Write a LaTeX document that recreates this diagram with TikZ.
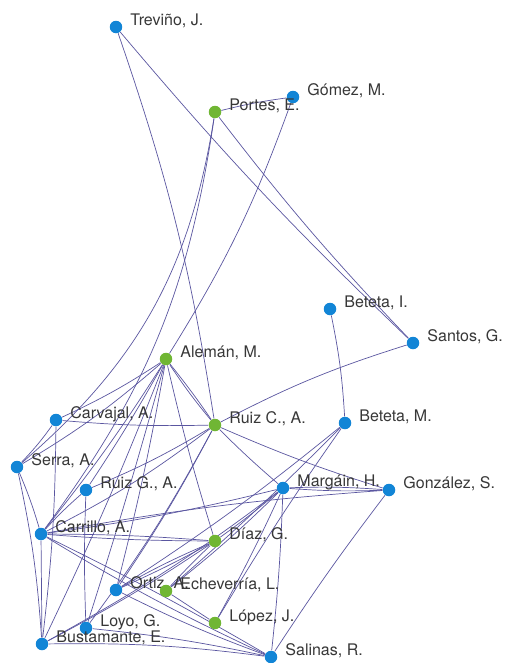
\documentclass[tikz,border=0pt]{standalone}
\usepackage{fontspec}
\setmainfont{TeX Gyre Heros}
\usetikzlibrary{backgrounds}
\definecolor{dotblue}{RGB}{18,133,214}
\definecolor{dotgreen}{RGB}{112,182,52}
\definecolor{linkcol}{RGB}{90,86,160}
\definecolor{namecol}{RGB}{55,55,55}
\begin{document}
\begin{tikzpicture}[x=0.02cm, y=-0.02cm,
    person/.style={circle, inner sep=0pt, minimum size=0.25cm,
        label={[name font, label distance=0.15cm, inner sep=0pt, yshift=0.12cm]right:{#1}}},
    name font/.style={font=\fontsize{9.1}{10}\selectfont, text=namecol},
    azul/.style={person={#1}, fill=dotblue},
    verde/.style={person={#1}, fill=dotgreen},
    link/.style={draw=linkcol, line width=0.4pt}]
\useasboundingbox (0,0) rectangle (513,663);

\node[azul={Treviño, J.}] (trevino) at (116,27) {};
\node[azul={Gómez, M.}] (gomez) at (293,97) {};
\node[verde={Portes, E.}] (portes) at (215,112) {};
\node[azul={Beteta, I.}] (betetaI) at (330,309) {};
\node[azul={Santos, G.}] (santos) at (413,343) {};
\node[verde={Alemán, M.}] (aleman) at (166,359) {};
\node[azul={Carvajal, A.}] (carvajal) at (56,420) {};
\node[verde={Ruiz C., A.}] (ruizC) at (215,425) {};
\node[azul={Beteta, M.}] (betetaM) at (345,423) {};
\node[azul={Serra, A.}] (serra) at (17,467) {};
\node[azul={Ruiz G., A.}] (ruizG) at (86,490) {};
\node[azul={Margáin, H.}] (margain) at (283,488) {};
\node[azul={González, S.}] (gonzalez) at (389,490) {};
\node[azul={Carrillo, A.}] (carrillo) at (41,534) {};
\node[verde={Díaz, G.}] (diaz) at (215,541) {};
\node[azul={Ortiz, A.}] (ortiz) at (116,590) {};
\node[verde={Echeverría, L.}] (echeverria) at (166,591) {};
\node[verde={López, J.}] (lopez) at (215,623) {};
\node[azul={Loyo, G.}] (loyo) at (86,628) {};
\node[azul={Bustamante, E.}] (bustamante) at (42,644) {};
\node[azul={Salinas, R.}] (salinas) at (271,657) {};

\begin{scope}[on background layer]
% ties among the members
\foreach \a/\b/\c in {trevino/ruizC/5, trevino/santos/-3, portes/gomez/3, portes/santos/-3,
    portes/serra/20, portes/carrillo/14, gomez/aleman/6, betetaI/betetaM/4, santos/ruizC/-5,
    aleman/carvajal/4, aleman/ruizC/2, aleman/ruizC/-3, aleman/serra/5, aleman/carrillo/3,
    aleman/ruizG/2, aleman/ortiz/2, aleman/loyo/1, aleman/diaz/-2, aleman/bustamante/2,
    carvajal/ruizC/-3, carvajal/serra/4, carvajal/bustamante/3,
    ruizC/carrillo/5, ruizC/ruizG/4, ruizC/ortiz/3, ruizC/margain/-2, ruizC/gonzalez/-3,
    ruizC/loyo/4, betetaM/ortiz/3, betetaM/echeverria/2, betetaM/lopez/-2,
    margain/gonzalez/-3, margain/gonzalez/3, margain/carrillo/3, margain/diaz/2,
    margain/echeverria/3, margain/lopez/2, margain/salinas/2, margain/bustamante/4,
    gonzalez/carrillo/-3, gonzalez/salinas/-2, carrillo/diaz/-2, carrillo/diaz/2,
    carrillo/salinas/-3, carrillo/salinas/2, carrillo/bustamante/0, carrillo/serra/-3,
    carrillo/ruizG/3, ortiz/diaz/3, ortiz/diaz/-2, ortiz/salinas/-3, echeverria/lopez/0,
    echeverria/diaz/2, bustamante/salinas/4, loyo/salinas/3, loyo/ruizG/2,
    serra/bustamante/4, bustamante/diaz/-3}
  \draw[link] (\a) to[bend left=\c] (\b);
\end{scope}
\end{tikzpicture}
\end{document}
